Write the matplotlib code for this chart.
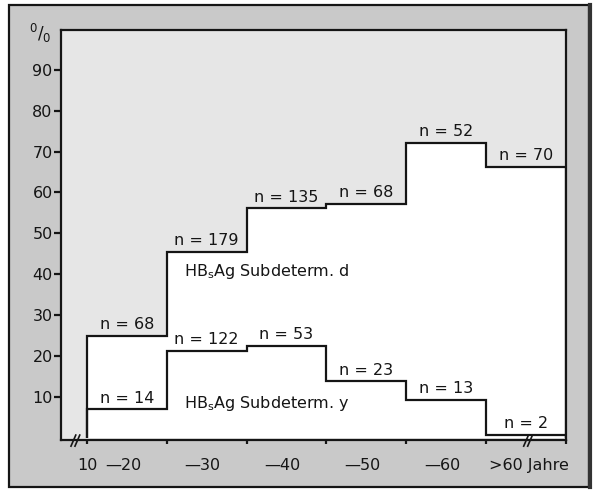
import numpy as np
import matplotlib
matplotlib.use("Agg")
import matplotlib.pyplot as plt
import matplotlib.transforms as mtransforms
from matplotlib.patches import Rectangle

plt.rcParams['font.family'] = ['DejaVu Sans']
plt.rcParams['mathtext.fontset'] = 'dejavusans'

# age groups and values
age_labels = ['—20', '—30', '—40', '—50', '—60', '>60 Jahre']
subdet_d = [25.0, 45.5, 56.2, 57.2, 72.2, 66.3]
n_d = [68, 179, 135, 68, 52, 70]
subdet_y = [7.0, 21.3, 22.5, 13.9, 9.3, 0.8]
n_y = [14, 122, 53, 23, 13, 2]
y_ticks = [10, 20, 30, 40, 50, 60, 70, 80, 90]

edges = np.arange(len(subdet_d) + 1)
centers = edges[:-1] + 0.5
ink = '#151515'
fs = 11.5

fig = plt.figure(figsize=(5.96, 4.90), dpi=100)
fig.patch.set_facecolor('white')

# outer frame with grey background
W, H = 596, 490
frame = Rectangle((9 / W, 3 / H), 580 / W, 482 / H, transform=fig.transFigure,
                  facecolor='#c9c9c9', edgecolor=ink, lw=1.6, zorder=-10)
fig.patches.append(frame)
fig.add_artist(plt.Line2D([590 / W, 590 / W], [3 / H, 485 / H], transform=fig.transFigure,
                          color='#333333', lw=3, zorder=-9))

ax = fig.add_axes([61 / W, 1 - 440 / H, 505 / W, 410 / H])
ax.set_zorder(5)
ax.set_facecolor('#e6e6e6')

# white area under the d curve
ax.stairs(subdet_d, edges, baseline=0, fill=True, color='white', lw=0, zorder=1)
ax.stairs(subdet_d, edges, baseline=0, color=ink, lw=1.6, zorder=3)
ax.stairs(subdet_y, edges, baseline=0, color=ink, lw=1.6, zorder=3)

for x, v, n in zip(centers, subdet_d, n_d):
    ax.annotate(f'n = {n}', (x, v), xytext=(0, 2.5), textcoords='offset points',
                ha='center', va='bottom', fontsize=fs, color=ink, zorder=4)
for x, v, n in zip(centers, subdet_y, n_y):
    ax.annotate(f'n = {n}', (x, v), xytext=(0, 2.5), textcoords='offset points',
                ha='center', va='bottom', fontsize=fs, color=ink, zorder=4)

ax.text(1.22, 40.6, r'HB$_{\mathrm{s}}$Ag Subdeterm. d', fontsize=fs, color=ink,
        va='center', ha='left', zorder=4)
ax.text(1.22, 8.5, r'HB$_{\mathrm{s}}$Ag Subdeterm. y', fontsize=fs, color=ink,
        va='center', ha='left', zorder=4)

ax.set_xlim(-0.325, 6.0)
ax.set_ylim(-0.5, 99.7)

ax.set_yticks(y_ticks)
ax.set_yticklabels([str(t) for t in y_ticks], fontsize=fs, color=ink)
ax.set_xticks(edges)
ax.set_xticklabels([])
ax.tick_params(axis='y', direction='out', length=5, width=1.6, pad=1, color=ink)
ax.tick_params(axis='x', direction='out', length=3, width=1.6, color=ink)
for s in ax.spines.values():
    s.set_color(ink)
    s.set_linewidth(1.6)

# x labels
trans = mtransforms.blended_transform_factory(ax.transData, ax.transAxes)
ax.text(0, -0.045, '10', transform=trans, ha='center', va='top', fontsize=fs, color=ink)
for x, lab in zip(centers, age_labels):
    if lab.startswith('>'):
        ax.text(edges[-2] + 0.03, -0.045, lab, transform=trans, ha='left', va='top',
                fontsize=fs, color=ink)
    else:
        ax.text(x - 0.05, -0.045, lab, transform=trans, ha='center', va='top',
                fontsize=fs, color=ink)

# axis break marks
for bx in (-0.17, -0.12, 5.5, 5.55):
    ax.plot([bx - 0.03, bx + 0.03], [-0.015, 0.012], transform=trans, color=ink,
            lw=1.2, clip_on=False, zorder=5)

fig.text(40 / W, 1 - 33 / H, r'$^{0}/_{0}$', ha='center', va='center',
         fontsize=12, color=ink)

fig.savefig('out.png', dpi=100)
